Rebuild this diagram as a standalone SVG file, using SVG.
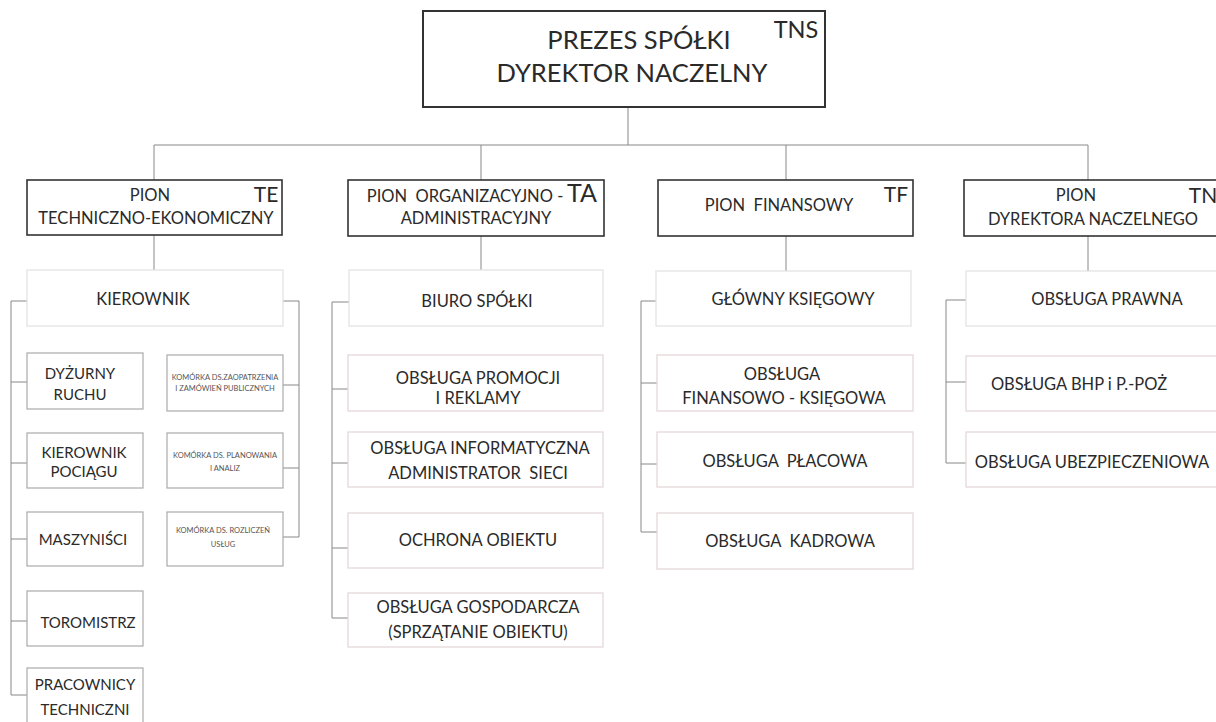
<svg xmlns="http://www.w3.org/2000/svg" width="1216" height="722" viewBox="0 0 1216 722" xml:space="preserve">
<style>
text{font-family:Lato,"Open Sans","Liberation Sans",sans-serif;fill:#2a2a2a;text-anchor:middle;white-space:pre}
.t{font-size:16.5px}
.s{font-size:15px}
.big{font-size:25.5px}
.code{font-size:21px}
.tiny{font-size:7.5px;fill:#555}
.main{fill:#fff;stroke:#333;stroke-width:2}
.pion{fill:#fff;stroke:#333;stroke-width:1.6}
.head{fill:#fff;stroke:#e2e2e2;stroke-width:1.2}
.sub{fill:#fff;stroke:#aaa;stroke-width:1.2}
.pink{fill:#fff;stroke:#e3d6d6;stroke-width:1.2}
.c{fill:none;stroke:#888;stroke-width:1}
</style>
<rect width="1216" height="722" fill="#fff"/>
<g id="connectors">
<path class="c" d="M628 107V145M154 145H1088M154 145V180M481 145V180M786 145V180M1088 145V180"/>
<path class="c" d="M154 235V270M481 236V270M786 236V271M1088 236V271"/>
<path class="c" d="M27 301H11V695H27M11 382H27M11 463H27M11 539H27M11 621H27"/>
<path class="c" d="M283 301H299V537H283M283 385H299M283 468H299"/>
<path class="c" d="M349 302H332V618H348M332 389H348M332 463H348M332 548H348"/>
<path class="c" d="M656 301H641V532H657M641 383H657M641 464H657"/>
<path class="c" d="M966 300H946V463H966M946 382H966"/>
</g>
<g id="prezes">
<rect class="main" x="423" y="11" width="402" height="96"/>
<text class="big" x="639" y="49">PREZES SPÓŁKI</text>
<text class="big" x="632" y="82">DYREKTOR NACZELNY</text>
<text class="code" x="796" y="38" style="font-size:23.5px">TNS</text>
</g>
<g id="pion-te">
<rect class="pion" x="27" y="180" width="255" height="55"/>
<text class="t" x="150" y="201">PION</text>
<text class="t" x="156" y="224">TECHNICZNO-EKONOMICZNY</text>
<text class="code" x="266" y="202">TE</text>
</g>
<g id="pion-ta">
<rect class="pion" x="348" y="180" width="256" height="56"/>
<text class="t" x="465" y="202">PION  ORGANIZACYJNO -</text>
<text class="code" x="582" y="202" style="font-size:25px">TA</text>
<text class="t" x="476" y="224">ADMINISTRACYJNY</text>
</g>
<g id="pion-tf">
<rect class="pion" x="658" y="180" width="255" height="56"/>
<text class="t" x="779" y="211">PION  FINANSOWY</text>
<text class="code" x="896" y="202">TF</text>
</g>
<g id="pion-tn">
<rect class="pion" x="964" y="180" width="260" height="56"/>
<text class="t" x="1076" y="201">PION</text>
<text class="t" x="1093" y="225">DYREKTORA NACZELNEGO</text>
<text class="code" x="1203" y="203">TN</text>
</g>
<g id="kierownik">
<rect class="head" x="27" y="270" width="256" height="56"/>
<text class="t" x="143" y="305">KIEROWNIK</text>
</g>
<g id="dyzurny">
<rect class="sub" x="27" y="353" width="116" height="56"/>
<text class="s" x="80" y="379">DYŻURNY</text>
<text class="s" x="80" y="400">RUCHU</text>
</g>
<g id="kier-pociagu">
<rect class="sub" x="27" y="433" width="116" height="55"/>
<text class="s" x="84" y="458">KIEROWNIK</text>
<text class="s" x="84" y="477">POCIĄGU</text>
</g>
<g id="maszynisci">
<rect class="sub" x="27" y="512" width="116" height="54"/>
<text class="s" x="83" y="545">MASZYNIŚCI</text>
</g>
<g id="toromistrz">
<rect class="sub" x="27" y="591" width="116" height="55"/>
<text class="s" x="88" y="628">TOROMISTRZ</text>
</g>
<g id="pracownicy">
<rect class="sub" x="27" y="668" width="116" height="62"/>
<text class="s" x="85" y="690">PRACOWNICY</text>
<text class="s" x="85" y="715">TECHNICZNI</text>
</g>
<g id="kom-zaopatrzenia">
<rect class="sub" x="167" y="355" width="116" height="56"/>
<text class="tiny" x="225" y="380">KOMÓRKA DS.ZAOPATRZENIA</text>
<text class="tiny" x="225" y="391">I ZAMÓWIEŃ PUBLICZNYCH</text>
</g>
<g id="kom-planowania">
<rect class="sub" x="167" y="433" width="116" height="55"/>
<text class="tiny" x="225" y="458">KOMÓRKA DS. PLANOWANIA</text>
<text class="tiny" x="225" y="471">I ANALIZ</text>
</g>
<g id="kom-rozliczen">
<rect class="sub" x="167" y="512" width="116" height="54"/>
<text class="tiny" x="223" y="533">KOMÓRKA DS. ROZLICZEŃ</text>
<text class="tiny" x="223" y="547">USŁUG</text>
</g>
<g id="biuro">
<rect class="head" x="349" y="270" width="254" height="56"/>
<text class="t" x="477" y="307">BIURO SPÓŁKI</text>
</g>
<g id="promocja">
<rect class="pink" x="348" y="355" width="255" height="56"/>
<text class="t" x="478" y="384">OBSŁUGA PROMOCJI</text>
<text class="t" x="478" y="404">I REKLAMY</text>
</g>
<g id="informatyczna">
<rect class="pink" x="348" y="432" width="255" height="55"/>
<text class="t" x="480" y="454">OBSŁUGA INFORMATYCZNA</text>
<text class="t" x="478" y="479">ADMINISTRATOR  SIECI</text>
</g>
<g id="ochrona">
<rect class="pink" x="348" y="513" width="255" height="55"/>
<text class="t" x="478" y="546">OCHRONA OBIEKTU</text>
</g>
<g id="gospodarcza">
<rect class="pink" x="348" y="593" width="255" height="54"/>
<text class="t" x="478" y="613">OBSŁUGA GOSPODARCZA</text>
<text class="t" x="478" y="638">(SPRZĄTANIE OBIEKTU)</text>
</g>
<g id="glowny">
<rect class="head" x="656" y="271" width="255" height="55"/>
<text class="t" x="793" y="305">GŁÓWNY KSIĘGOWY</text>
</g>
<g id="finansowo">
<rect class="pink" x="657" y="355" width="256" height="56"/>
<text class="t" x="782" y="380">OBSŁUGA</text>
<text class="t" x="784" y="404">FINANSOWO - KSIĘGOWA</text>
</g>
<g id="placowa">
<rect class="pink" x="657" y="432" width="256" height="55"/>
<text class="t" x="785" y="467">OBSŁUGA  PŁACOWA</text>
</g>
<g id="kadrowa">
<rect class="pink" x="657" y="513" width="256" height="56"/>
<text class="t" x="790" y="547">OBSŁUGA  KADROWA</text>
</g>
<g id="prawna">
<rect class="head" x="966" y="271" width="260" height="55"/>
<text class="t" x="1107" y="305">OBSŁUGA PRAWNA</text>
</g>
<g id="bhp">
<rect class="pink" x="966" y="356" width="260" height="55"/>
<text class="t" x="1079" y="390">OBSŁUGA BHP i P.-POŻ</text>
</g>
<g id="ubezpieczeniowa">
<rect class="pink" x="966" y="432" width="260" height="55"/>
<text class="t" x="1092" y="468">OBSŁUGA UBEZPIECZENIOWA</text>
</g>
</svg>
